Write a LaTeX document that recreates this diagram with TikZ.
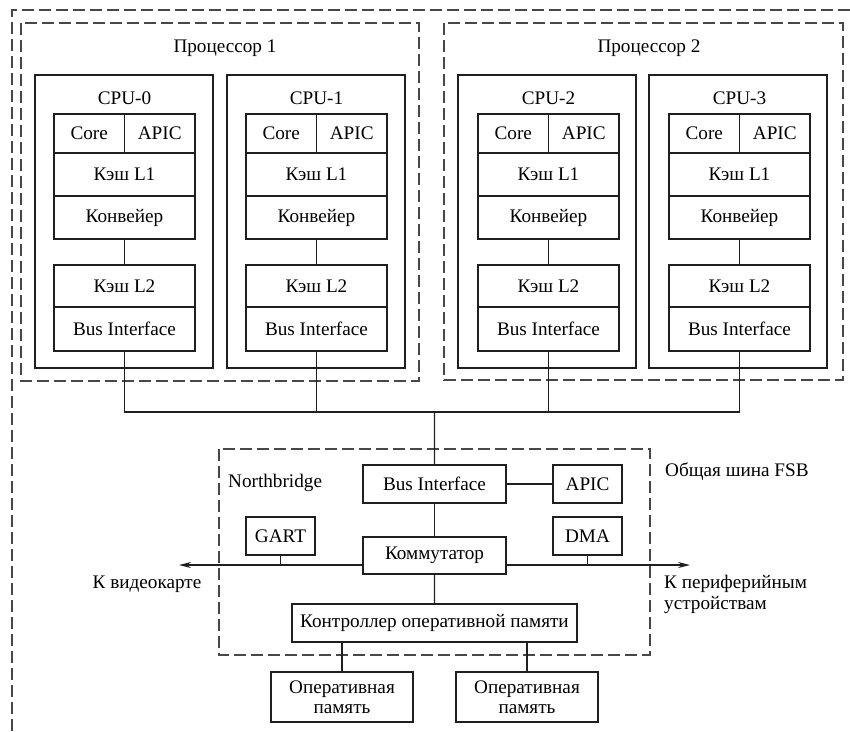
\documentclass[tikz,border=0pt]{standalone}
\usepackage{fontspec}
\setmainfont{Liberation Serif}
\usetikzlibrary{arrows.meta}
\newlength{\du}
\setlength{\du}{10pt}
\definecolor{dialinecolor}{rgb}{0.120000, 0.120000, 0.120000}
\definecolor{dashcolor}{rgb}{0.280000, 0.280000, 0.280000}
\tikzset{
  blk/.style={draw=dialinecolor, rectangle, inner sep=0pt, outer sep=0pt, anchor=north west, line width=1.4pt},
  half/.style={blk, minimum width=7.05\du, minimum height=3.9\du},
  cell/.style={blk, minimum width=14.1\du, minimum height=4.3\du},
  cpubox/.style={blk, minimum width=17.8\du, minimum height=29.3\du},
  nbbox/.style={blk, minimum width=6.9\du, minimum height=3.8\du},
  dashbox/.style={draw=dashcolor, line width=1.3pt, dash pattern=on 12pt off 5pt},
  wire/.style={draw=dialinecolor, line width=1.4pt},
  lbl/.style={inner sep=0pt, text=black}
}
\begin{document}
\begin{tikzpicture}[font=\fontsize{19.2}{20.5}\selectfont]
\pgftransformxscale{1.000000}
\pgftransformyscale{-1.000000}
\useasboundingbox (0\du,0\du) rectangle (85\du,73.1\du);
% frame
\draw[dashbox] (1.2\du,73.1\du) -- (1.2\du,1.0\du) -- (85\du,1.0\du);
\draw[dashbox] (2.1\du,2.3\du) rectangle (41.9\du,38.1\du);
\draw[dashbox] (44.4\du,2.3\du) rectangle (84.3\du,38.0\du);
\draw[dashbox] (21.9\du,44.9\du) rectangle (65.0\du,65.5\du);
\node[lbl] (proc1) at (22.5\du,4.8\du){Процессор 1};
\node[lbl] (proc2) at (64.9\du,4.8\du){Процессор 2};
% CPU-0
\node[cpubox] (cpu0) at (3.5\du,7.5\du){};
\node[lbl] (name0) at (12.45\du,9.8\du){CPU-0};
\node[half] (core0) at (5.4\du,11.4\du){Core};
\node[half] (apic0) at (12.45\du,11.4\du){APIC};
\node[cell] (lone0) at (5.4\du,15.3\du){Кэш L1};
\node[cell] (conv0) at (5.4\du,19.6\du){Конвейер};
\node[cell, minimum height=4.2\du] (ltwo0) at (5.4\du,26.5\du){Кэш L2};
\node[cell, minimum height=4.4\du] (bus0) at (5.4\du,30.7\du){Bus Interface};
% CPU-1
\node[cpubox] (cpu1) at (22.7\du,7.5\du){};
\node[lbl] (name1) at (31.65\du,9.8\du){CPU-1};
\node[half] (core1) at (24.6\du,11.4\du){Core};
\node[half] (apic1) at (31.65\du,11.4\du){APIC};
\node[cell] (lone1) at (24.6\du,15.3\du){Кэш L1};
\node[cell] (conv1) at (24.6\du,19.6\du){Конвейер};
\node[cell, minimum height=4.2\du] (ltwo1) at (24.6\du,26.5\du){Кэш L2};
\node[cell, minimum height=4.4\du] (bus1) at (24.6\du,30.7\du){Bus Interface};
% CPU-2
\node[cpubox] (cpu2) at (45.8\du,7.5\du){};
\node[lbl] (name2) at (54.85\du,9.8\du){CPU-2};
\node[half] (core2) at (47.8\du,11.4\du){Core};
\node[half] (apic2) at (54.85\du,11.4\du){APIC};
\node[cell] (lone2) at (47.8\du,15.3\du){Кэш L1};
\node[cell] (conv2) at (47.8\du,19.6\du){Конвейер};
\node[cell, minimum height=4.2\du] (ltwo2) at (47.8\du,26.5\du){Кэш L2};
\node[cell, minimum height=4.4\du] (bus2) at (47.8\du,30.7\du){Bus Interface};
% CPU-3
\node[cpubox] (cpu3) at (64.9\du,7.5\du){};
\node[lbl] (name3) at (73.95\du,9.8\du){CPU-3};
\node[half] (core3) at (66.9\du,11.4\du){Core};
\node[half] (apic3) at (73.95\du,11.4\du){APIC};
\node[cell] (lone3) at (66.9\du,15.3\du){Кэш L1};
\node[cell] (conv3) at (66.9\du,19.6\du){Конвейер};
\node[cell, minimum height=4.2\du] (ltwo3) at (66.9\du,26.5\du){Кэш L2};
\node[cell, minimum height=4.4\du] (bus3) at (66.9\du,30.7\du){Bus Interface};
\draw[wire] (conv0.south) -- (ltwo0.north);
\draw[wire] (conv1.south) -- (ltwo1.north);
\draw[wire] (conv2.south) -- (ltwo2.north);
\draw[wire] (conv3.south) -- (ltwo3.north);
% FSB
\coordinate (fsb) at (43.45\du,41.2\du);
\draw[wire] (bus0.south) -- (bus0.south |- fsb) -- (bus3.south |- fsb) -- (bus3.south);
\draw[wire] (bus1.south) -- (bus1.south |- fsb);
\draw[wire] (bus2.south) -- (bus2.south |- fsb);
% Northbridge
\node[lbl, anchor=west] (nbname) at (22.8\du,48.3\du){Northbridge};
\node[lbl, anchor=west] (fsbname) at (66.5\du,47.2\du){Общая шина FSB};
\node[nbbox, minimum width=14.3\du] (nbbus) at (36.3\du,46.5\du){Bus Interface};
\node[nbbox] (nbapic) at (55.3\du,46.5\du){APIC};
\node[nbbox] (dma) at (55.3\du,51.7\du){DMA};
\node[nbbox] (gart) at (24.6\du,51.7\du){GART};
\node[nbbox, minimum width=14.3\du, minimum height=3.7\du] (comm) at (36.3\du,53.7\du){Коммутатор};
\node[nbbox, minimum width=28.5\du] (ctrl) at (29.2\du,60.4\du){Контроллер оперативной памяти};
\node[nbbox, minimum width=14.2\du, minimum height=5.0\du, align=center] (mem1) at (27.1\du,67.2\du){Оперативная\\память};
\node[nbbox, minimum width=14.2\du, minimum height=5.0\du, align=center] (mem2) at (45.6\du,67.2\du){Оперативная\\память};
\draw[wire] (fsb) -- (nbbus.north);
\draw[wire] (nbbus.east) -- (nbapic.west);
\draw[wire] (nbbus.south) -- (comm.north);
\draw[wire] (comm.south) -- (ctrl.north);
\draw[wire] (mem1.north |- ctrl.south) -- (mem1.north);
\draw[wire] (mem2.north |- ctrl.south) -- (mem2.north);
% outputs
\coordinate (vid) at (17.9\du,56.5\du);
\coordinate (per) at (69.0\du,56.5\du);
\draw[wire, -{Stealth[length=12pt,width=6pt]}] (comm.west |- vid) -- (vid);
\draw[wire, -{Stealth[length=12pt,width=6pt]}] (comm.east |- per) -- (per);
\draw[wire] (gart.south) -- (gart.south |- vid);
\draw[wire] (dma.south) -- (dma.south |- per);
\node[lbl] (vidname) at (14.7\du,58.4\du){К видеокарте};
\node[lbl, anchor=base west, align=left] (pername) at (66.4\du,60.9\du){К периферийным\\устройствам};
\end{tikzpicture}
\end{document}
